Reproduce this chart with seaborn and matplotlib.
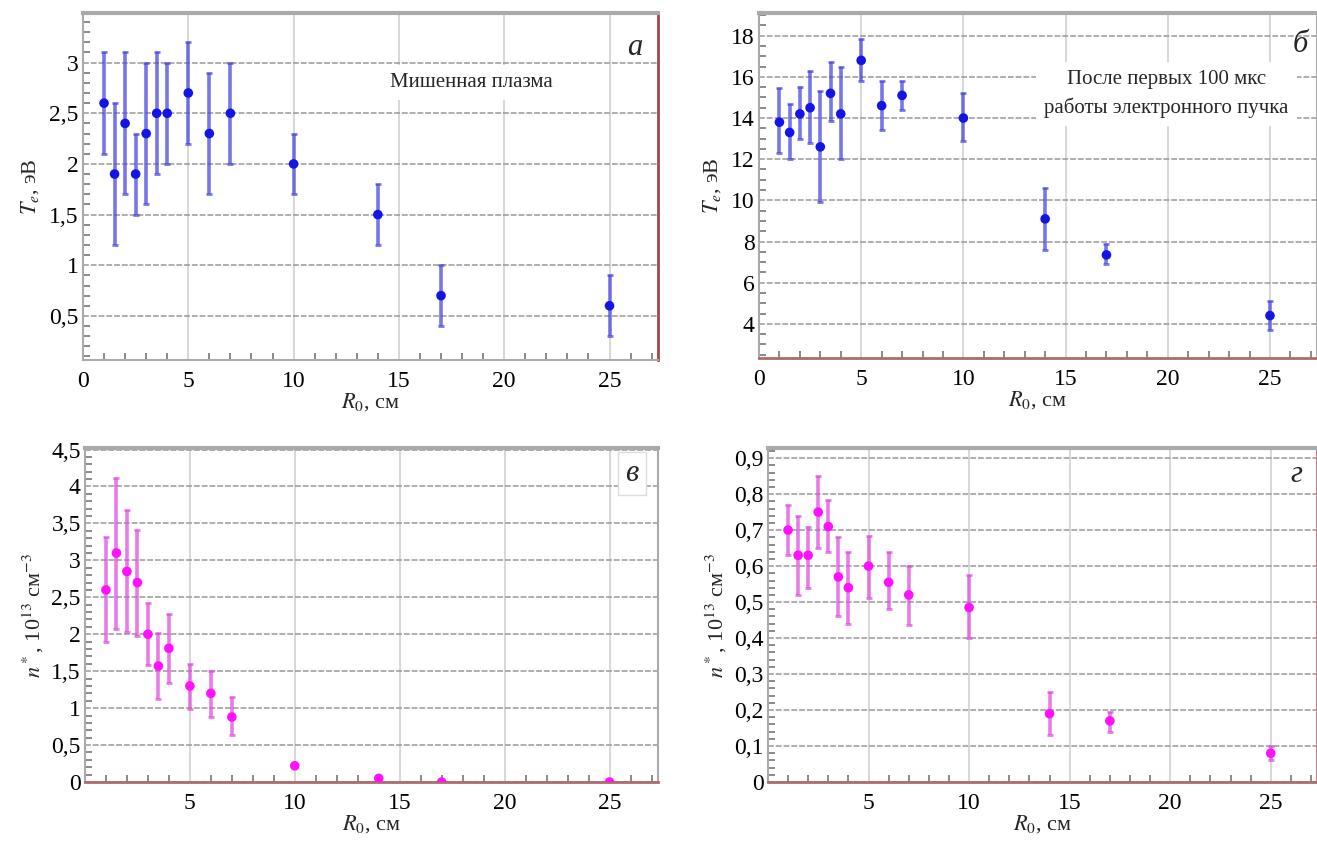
import numpy as np
import seaborn as sns
import matplotlib.pyplot as plt
from matplotlib.ticker import MultipleLocator, FuncFormatter, FixedLocator

# radius of the probe, cm (same set of points on all four panels)
R0 = [1, 1.5, 2, 2.5, 3, 3.5, 4, 5, 6, 7, 10, 14, 17, 25]

# a) electron temperature, target plasma
te_target = [2.6, 1.9, 2.4, 1.9, 2.3, 2.5, 2.5, 2.7, 2.3, 2.5, 2.0, 1.5, 0.7, 0.6]
te_target_lo = [2.1, 1.2, 1.7, 1.5, 1.6, 1.9, 2.0, 2.2, 1.7, 2.0, 1.7, 1.2, 0.4, 0.3]
te_target_hi = [3.1, 2.6, 3.1, 2.3, 3.0, 3.1, 3.0, 3.2, 2.9, 3.0, 2.3, 1.8, 1.0, 0.9]

# б) electron temperature after 100 us of the beam
te_beam = [13.8, 13.3, 14.2, 14.5, 12.6, 15.2, 14.2, 16.8, 14.6, 15.1, 14.0, 9.1, 7.35, 4.4]
te_beam_lo = [12.3, 12.0, 13.0, 12.8, 9.9, 13.85, 12.0, 15.8, 13.4, 14.4, 12.9, 7.6, 6.9, 3.7]
te_beam_hi = [15.45, 14.7, 15.5, 16.3, 15.3, 16.7, 16.5, 17.85, 15.8, 15.8, 15.2, 10.6, 7.9, 5.1]

# в) density, target plasma
n_target = [2.6, 3.1, 2.85, 2.7, 2.0, 1.57, 1.81, 1.3, 1.2, 0.88, 0.22, 0.05, 0.0, 0.0]
n_target_lo = [1.9, 2.07, 2.03, 1.98, 1.59, 1.13, 1.34, 0.99, 0.88, 0.63, 0.22, 0.05, 0.0, 0.0]
n_target_hi = [3.31, 4.11, 3.68, 3.41, 2.42, 2.02, 2.28, 1.6, 1.5, 1.15, 0.22, 0.05, 0.0, 0.0]

# г) density after the beam
n_beam = [0.70, 0.63, 0.63, 0.75, 0.71, 0.57, 0.54, 0.60, 0.555, 0.52, 0.485, 0.19, 0.17, 0.08]
n_beam_lo = [0.63, 0.52, 0.54, 0.65, 0.64, 0.46, 0.44, 0.51, 0.48, 0.435, 0.40, 0.13, 0.14, 0.06]
n_beam_hi = [0.77, 0.74, 0.71, 0.85, 0.785, 0.68, 0.64, 0.685, 0.64, 0.60, 0.575, 0.25, 0.195, 0.10]

sns.set_style("white")
plt.rcParams['font.family'] = ['Liberation Serif', 'DejaVu Serif']
plt.rcParams['mathtext.fontset'] = 'stix'

comma = FuncFormatter(lambda v, p: f"{v:g}".replace(".", ","))


def panel(ax, y, lo, hi, color, ecolor, ylim, ymajor, yminor, xticks):
    yerr = [np.array(y) - np.array(lo), np.array(hi) - np.array(y)]
    ax.errorbar(R0, y, yerr=yerr, fmt="none", ecolor=ecolor, elinewidth=2.6,
                capsize=2, capthick=2, alpha=0.75, zorder=2)
    sns.scatterplot(x=R0, y=y, ax=ax, color=color, s=48, edgecolor="none",
                    zorder=3, clip_on=True)
    ax.set_xlim(0, 27.3)
    ax.set_ylim(*ylim)
    ax.xaxis.set_major_locator(FixedLocator(xticks))
    ax.xaxis.set_minor_locator(MultipleLocator(1))
    ax.yaxis.set_major_locator(MultipleLocator(ymajor))
    ax.yaxis.set_minor_locator(MultipleLocator(yminor))
    ax.yaxis.set_major_formatter(comma)
    ax.grid(True, axis="x", color="#d4d4d4", lw=1.3)
    ax.grid(True, axis="y", color="#9a9a9a", lw=1.4, ls=(0, (3, 1)), alpha=0.8)
    ax.tick_params(axis="both", which="both", direction="in", colors="#777777",
                   labelcolor="black", labelsize=17)
    ax.tick_params(axis="y", which="major", length=10, width=1.5, pad=3)
    ax.tick_params(axis="y", which="minor", length=5, width=1.2, left=True)
    ax.tick_params(axis="x", which="major", length=0, pad=8)
    ax.tick_params(axis="x", which="minor", length=5, width=1.2, bottom=True)
    ax.set_xlabel(r"$R_0$, см", fontsize=16, labelpad=-1)
    for s in ax.spines.values():
        s.set_color("#aaaaaa")
        s.set_linewidth(1.5)
    ax.spines["top"].set_linewidth(3)
    ax.set_axisbelow(True)


fig = plt.figure(figsize=(13.17, 8.47), dpi=100)
ax_a = fig.add_axes([0.0630, 0.5750, 0.4366, 0.4097])
ax_b = fig.add_axes([0.5763, 0.5773, 0.4237, 0.4073])
ax_c = fig.add_axes([0.0645, 0.0767, 0.4350, 0.3943])
ax_d = fig.add_axes([0.5831, 0.0767, 0.4169, 0.3943])

blue, blue_e = "#1414e6", "#4a4ae0"
mag, mag_e = "#ff10ff", "#e050e0"

panel(ax_a, te_target, te_target_lo, te_target_hi, blue, blue_e,
      (0.065, 3.49), 0.5, 0.1, [0, 5, 10, 15, 20, 25])
panel(ax_b, te_beam, te_beam_lo, te_beam_hi, blue, blue_e,
      (2.34, 19.1), 2, 0.5, [0, 5, 10, 15, 20, 25])
panel(ax_c, n_target, n_target_lo, n_target_hi, mag, mag_e,
      (0, 4.52), 0.5, 0.1, [5, 10, 15, 20, 25])
panel(ax_d, n_beam, n_beam_lo, n_beam_hi, mag, mag_e,
      (0, 0.928), 0.1, 0.02, [5, 10, 15, 20, 25])

ax_a.set_ylabel(r"$T_e$, эВ", fontsize=16, labelpad=6)
ax_b.set_ylabel(r"$T_e$, эВ", fontsize=16, labelpad=6)
ax_c.set_ylabel(r"$n^*$, 10$^{13}$ см$^{-3}$", fontsize=16, labelpad=4)
ax_d.set_ylabel(r"$n^*$, 10$^{13}$ см$^{-3}$", fontsize=16, labelpad=4)

# reddish edges that show in the original scan
ax_a.spines["right"].set_color("#a04848")
ax_a.spines["right"].set_linewidth(2)
for ax in (ax_b, ax_c, ax_d):
    ax.spines["bottom"].set_color("#b06a6a")
    ax.spines["bottom"].set_linewidth(2)
ax_d.spines["right"].set_color("#c08080")

box = dict(facecolor="white", edgecolor="none", pad=6)
ax_a.text(0.675, 0.80, "Мишенная плазма", transform=ax_a.transAxes,
          fontsize=15, ha="center", va="center", bbox=box)
ax_b.text(0.73, 0.765, "После первых 100 мкс\nработы электронного пучка",
          transform=ax_b.transAxes, fontsize=15, ha="center", va="center",
          linespacing=1.5, bbox=box)

ax_a.text(0.96, 0.90, "а", transform=ax_a.transAxes, fontsize=22,
          style="italic", ha="center", va="center")
ax_b.text(0.97, 0.91, "б", transform=ax_b.transAxes, fontsize=22,
          style="italic", ha="center", va="center")
ax_c.text(0.955, 0.925, "в", transform=ax_c.transAxes, fontsize=22,
          style="italic", ha="center", va="center",
          bbox=dict(facecolor="white", edgecolor="#dddddd", pad=5))
ax_d.text(0.962, 0.92, "г", transform=ax_d.transAxes, fontsize=22,
          style="italic", ha="center", va="center")

fig.savefig("out.png", dpi=100)
